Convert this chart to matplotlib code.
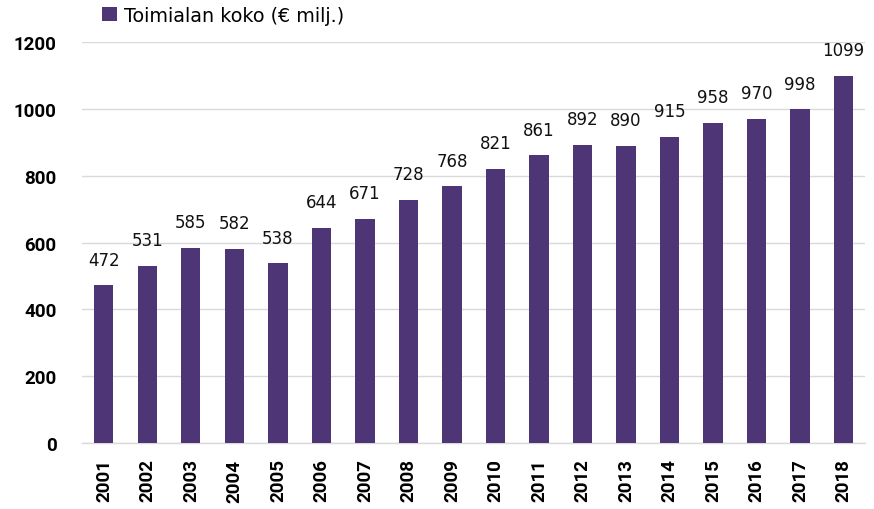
import matplotlib.pyplot as plt

years = ['2001', '2002', '2003', '2004', '2005', '2006', '2007', '2008', '2009',
         '2010', '2011', '2012', '2013', '2014', '2015', '2016', '2017', '2018']
values = [472, 531, 585, 582, 538, 644, 671, 728, 768,
          821, 861, 892, 890, 915, 958, 970, 998, 1099]
series_name = 'Toimialan koko (€ milj.)'
bar_color = '#4E3575'

fig = plt.figure(figsize=(8.74, 5.10), dpi=100)
ax = fig.add_axes([0.094, 0.129, 0.896, 0.787])

x = range(len(years))
ax.bar(x, values, width=0.44, color=bar_color, label=series_name, zorder=3)

for xi, v in zip(x, values):
    ax.text(xi, v + 50, str(v), ha='center', va='bottom', fontsize=12,
            family='DejaVu Sans', color='#111111')

tick_font = dict(size=13.5, weight='bold', family='Roboto')

ax.set_xlim(-0.5, len(years) - 0.5)
ax.set_ylim(0, 1200)
ax.set_yticks(range(0, 1201, 200))
ax.set_xticks(list(x))
ax.set_xticklabels(years, rotation=90, fontdict=tick_font)
ax.set_yticklabels([str(v) for v in range(0, 1201, 200)], fontdict=tick_font)

ax.grid(axis='y', color='#d9d9d9', linewidth=1, zorder=0)
for s in ['top', 'right', 'left']:
    ax.spines[s].set_visible(False)
ax.spines['bottom'].set_color('#d9d9d9')
ax.spines['bottom'].set_linewidth(1)
ax.tick_params(axis='both', length=0)
ax.tick_params(axis='y', pad=18.5)
ax.tick_params(axis='x', pad=11)

fig.legend(loc='center left', bbox_to_anchor=(0.117, 0.968), frameon=False,
           handlelength=0.75, handleheight=0.75, handletextpad=0.4,
           borderaxespad=0, borderpad=0,
           prop={'family': 'DejaVu Sans', 'size': 13.8})

fig.savefig('out.png', dpi=100)
